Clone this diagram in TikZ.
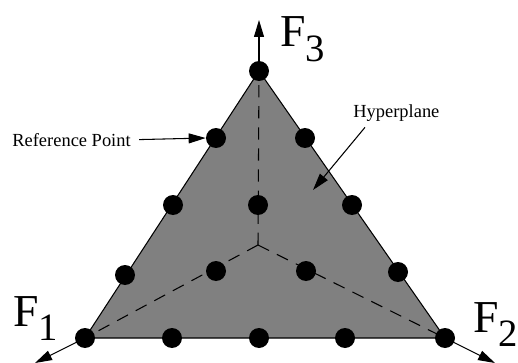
\documentclass[tikz,border=0pt]{standalone}
\usepackage{fontspec}
\setmainfont{Liberation Serif}
\usetikzlibrary{arrows.meta, positioning}

\newcommand{\subidx}[1]{\raisebox{-8pt}{\fontsize{22}{22}\selectfont #1}}

\begin{document}
\begin{tikzpicture}[
    refpt/.style={circle, fill=black, inner sep=0pt, minimum size=0.4cm},
    pointer/.style={-{Triangle[length=0.34cm, width=0.2cm]}, line width=0.6pt},
    axislabel/.style={font=\fontsize{26}{26}\selectfont, inner sep=0pt, anchor=base west},
    smalltext/.style={font=\fontsize{10.5}{12}\selectfont, inner sep=0pt}
  ]
      \useasboundingbox (0,0) rectangle (10.36,7.24);

      % corners of the plane and its centre
      \coordinate (V1) at (1.70,0.48);
      \coordinate (V2) at (8.90,0.48);
      \coordinate (V3) at (5.18,5.82);
      \coordinate (O) at (5.16,2.34);

      \coordinate (f1end) at (0.70,-0.02);
      \coordinate (f2end) at (9.90,-0.02);
      \coordinate (f3end) at (5.18,6.84);

      \filldraw[fill=gray, draw=black, line width=0.6pt] (V1) -- (V2) -- (V3) -- cycle;

      \draw[dashed, dash pattern=on 7pt off 5pt, line width=0.6pt] (O) -- (V1);
      \draw[dashed, dash pattern=on 7pt off 5pt, line width=0.6pt] (O) -- (V2);
      \draw[dashed, dash pattern=on 7pt off 5pt, line width=0.6pt] (O) -- (V3);

      \draw[pointer] (V1) -- (f1end);
      \draw[pointer] (V2) -- (f2end);
      \draw[pointer] (V3) -- (f3end);

      % reference points
      \node[refpt] (r400) at (V1) {};
      \node[refpt] (r040) at (V2) {};
      \node[refpt] (r004) at (V3) {};
      \node[refpt] (r103) at (4.32,4.48) {};
      \node[refpt] (r202) at (3.46,3.14) {};
      \node[refpt] (r301) at (2.50,1.74) {};
      \node[refpt] (r013) at (6.10,4.48) {};
      \node[refpt] (r022) at (7.04,3.14) {};
      \node[refpt] (r031) at (7.96,1.80) {};
      \node[refpt] (r112) at (5.16,3.14) {};
      \node[refpt] (r211) at (4.32,1.82) {};
      \node[refpt] (r121) at (6.12,1.82) {};
      \node[refpt] (r310) at (3.44,0.48) {};
      \node[refpt] (r220) at (5.18,0.48) {};
      \node[refpt] (r130) at (6.90,0.48) {};

      \node[axislabel] (f1) at (0.26,0.72) {F\subidx{1}};
      \node[axislabel] (f2) at (9.46,0.60) {F\subidx{2}};
      \node[axislabel] (f3) at (5.60,6.30) {F\subidx{3}};

      \node[smalltext, anchor=base west] (reflabel) at (0.24,4.32) {Reference Point};
      \draw[pointer] ([xshift=0.16cm]reflabel.east) -- (r103.west);

      \node[smalltext, anchor=base west] (hyplabel) at (7.06,4.88) {Hyperplane};
      \coordinate (hyptip) at (6.26,3.44);
      \draw[pointer] ([xshift=0.24cm, yshift=-0.1cm]hyplabel.south west) -- (hyptip);
    \end{tikzpicture}
\end{document}
